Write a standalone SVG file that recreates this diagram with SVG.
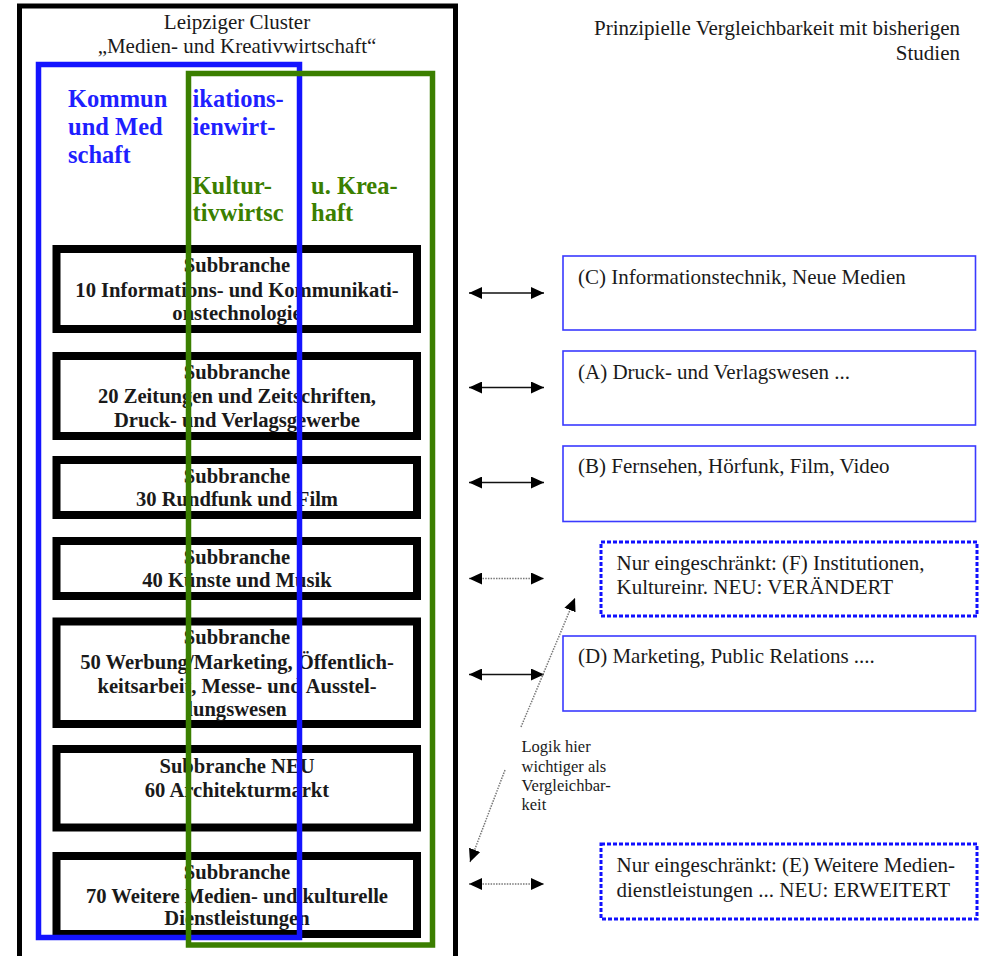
<svg xmlns="http://www.w3.org/2000/svg" width="981" height="956" viewBox="0 0 981 956">
<style>
.t{font-family:"Liberation Serif","Times New Roman",serif;fill:#1a1a1a;font-size:21px}
.b{font-weight:bold;text-anchor:middle;font-size:20.6px}
.n{font-size:16.5px}
.hb{font-family:"Liberation Serif","Times New Roman",serif;font-weight:bold;font-size:24.5px;fill:#1f1fff}
.hg{font-family:"Liberation Serif","Times New Roman",serif;font-weight:bold;font-size:24.5px;fill:#3b7f00}
.sb{fill:#fff;stroke:#000;stroke-width:8}
.rb{fill:#fff;stroke:#3a3aff;stroke-width:1.6}
.rd{fill:#fff;stroke:#1010ff;stroke-width:3;stroke-dasharray:4 2}
.ar{stroke:#111;stroke-width:1.6;fill:none}
.ad{stroke:#777;stroke-width:1.5;stroke-dasharray:1.5 1.2;fill:none}
</style>
<defs>
<marker id="ah" viewBox="0 0 13 12" refX="13" refY="6" markerWidth="13" markerHeight="12" markerUnits="userSpaceOnUse" orient="auto-start-reverse">
<path d="M0,0 L13,6 L0,12 z" fill="#000"/>
</marker>
</defs>
<rect width="981" height="956" fill="#fff"/>

<g id="cluster">
<rect x="19.5" y="6" width="436" height="960" fill="#fff" stroke="#000" stroke-width="5"/>
<text class="t" x="237" y="29" text-anchor="middle">Leipziger Cluster</text>
<text class="t" x="237" y="53" text-anchor="middle">„Medien- und Kreativwirtschaft“</text>
</g>

<g id="sub10">
<rect class="sb" x="56.5" y="249" width="360.5" height="80"/>
<text class="t b" x="237" y="272">Subbranche</text>
<text class="t b" x="237" y="296.5">10 Informations- und Kommunikati-</text>
<text class="t b" x="237" y="320">onstechnologie</text>
</g>
<g id="sub20">
<rect class="sb" x="56.5" y="356" width="360.5" height="80"/>
<text class="t b" x="237" y="378.5">Subbranche</text>
<text class="t b" x="237" y="403">20 Zeitungen und Zeitschriften,</text>
<text class="t b" x="237" y="426.5">Druck- und Verlagsgewerbe</text>
</g>
<g id="sub30">
<rect class="sb" x="56.5" y="460" width="360.5" height="55"/>
<text class="t b" x="237" y="482.5">Subbranche</text>
<text class="t b" x="237" y="506">30 Rundfunk und Film</text>
</g>
<g id="sub40">
<rect class="sb" x="56.5" y="541" width="360.5" height="55"/>
<text class="t b" x="237" y="563.5">Subbranche</text>
<text class="t b" x="237" y="587">40 Künste und Musik</text>
</g>
<g id="sub50">
<rect class="sb" x="56.5" y="621.5" width="360.5" height="102.5"/>
<text class="t b" x="237" y="644">Subbranche</text>
<text class="t b" x="237" y="668.5">50 Werbung/Marketing, Öffentlich-</text>
<text class="t b" x="237" y="693">keitsarbeit, Messe- und Ausstel-</text>
<text class="t b" x="237" y="716">lungswesen</text>
</g>
<g id="sub60">
<rect class="sb" x="56.5" y="749" width="360.5" height="78.5"/>
<text class="t b" x="237" y="772.5">Subbranche NEU</text>
<text class="t b" x="237" y="797">60 Architekturmarkt</text>
</g>
<g id="sub70">
<rect class="sb" x="56.5" y="856" width="360.5" height="78"/>
<text class="t b" x="237" y="878.5">Subbranche</text>
<text class="t b" x="237" y="902.5">70 Weitere Medien- und kulturelle</text>
<text class="t b" x="237" y="925">Dienstleistungen</text>
</g>

<g id="kommunikation">
<rect x="38.5" y="64.5" width="261" height="873" fill="none" stroke="#1414ff" stroke-width="5.5"/>
<text class="hb" x="68" y="107">Kommun</text>
<text class="hb" x="192.5" y="107">ikations-</text>
<text class="hb" x="68" y="135">und Med</text>
<text class="hb" x="192.5" y="135">ienwirt-</text>
<text class="hb" x="68" y="163">schaft</text>
</g>
<g id="kultur">
<rect x="188.5" y="73.5" width="244" height="871.5" fill="none" stroke="#3b7f00" stroke-width="5.5"/>
<text class="hg" x="192.5" y="193.5">Kultur-</text>
<text class="hg" x="311" y="193.5">u. Krea-</text>
<text class="hg" x="192.5" y="221">tivwirtsc</text>
<text class="hg" x="311" y="221">haft</text>
</g>

<g id="header">
<text class="t" x="960" y="35" text-anchor="end">Prinzipielle Vergleichbarkeit mit bisherigen</text>
<text class="t" x="960" y="59.5" text-anchor="end">Studien</text>
</g>

<g id="boxC">
<rect class="rb" x="563" y="256" width="412.5" height="74"/>
<text class="t" x="578" y="283.5">(C) Informationstechnik, Neue Medien</text>
</g>
<g id="boxA">
<rect class="rb" x="563" y="351" width="412.5" height="74"/>
<text class="t" x="578" y="378.5">(A) Druck- und Verlagswesen ...</text>
</g>
<g id="boxB">
<rect class="rb" x="563" y="446" width="412.5" height="75.5"/>
<text class="t" x="578" y="473">(B) Fernsehen, Hörfunk, Film, Video</text>
</g>
<g id="boxF">
<rect class="rd" x="601" y="542" width="376" height="74"/>
<text class="t" x="616.5" y="569.5">Nur eingeschränkt: (F) Institutionen,</text>
<text class="t" x="616.5" y="594">Kultureinr. NEU: VERÄNDERT</text>
</g>
<g id="boxD">
<rect class="rb" x="563" y="636" width="412.5" height="75"/>
<text class="t" x="578" y="663">(D) Marketing, Public Relations ....</text>
</g>
<g id="boxE">
<rect class="rd" x="601" y="844" width="376" height="75"/>
<text class="t" x="616.5" y="872">Nur eingeschränkt: (E) Weitere Medien-</text>
<text class="t" x="616.5" y="896.5">dienstleistungen ... NEU: ERWEITERT</text>
</g>

<g id="note">
<text class="t n" x="521.5" y="752">Logik hier</text>
<text class="t n" x="521.5" y="771.5">wichtiger als</text>
<text class="t n" x="521.5" y="791">Vergleichbar-</text>
<text class="t n" x="521.5" y="810">keit</text>
</g>

<g id="connectors">
<line class="ar" x1="469" y1="293" x2="544" y2="293" marker-start="url(#ah)" marker-end="url(#ah)"/>
<line class="ar" x1="469" y1="387.5" x2="544" y2="387.5" marker-start="url(#ah)" marker-end="url(#ah)"/>
<line class="ar" x1="469" y1="482.5" x2="544" y2="482.5" marker-start="url(#ah)" marker-end="url(#ah)"/>
<line class="ad" x1="469" y1="578.5" x2="544" y2="578.5" marker-start="url(#ah)" marker-end="url(#ah)"/>
<line class="ar" x1="469" y1="674.5" x2="544" y2="674.5" marker-start="url(#ah)" marker-end="url(#ah)"/>
<line class="ad" x1="469" y1="884" x2="544" y2="884" marker-start="url(#ah)" marker-end="url(#ah)"/>
<line class="ad" x1="521" y1="727" x2="575" y2="598" marker-end="url(#ah)"/>
<line class="ad" x1="505" y1="770" x2="470" y2="862" marker-end="url(#ah)"/>
</g>
</svg>
